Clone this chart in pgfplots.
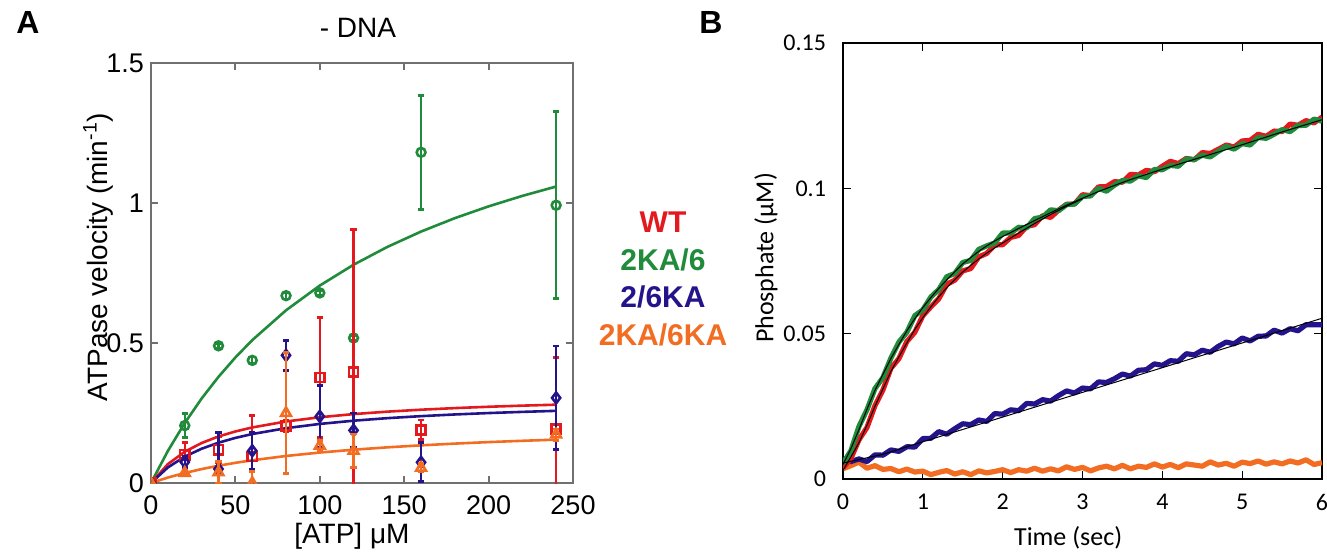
\documentclass[border=0pt]{standalone}
\usepackage{pgfplots}
\pgfplotsset{compat=1.18}
\usepackage{fontspec}
\setmainfont{Liberation Sans}
\newfontfamily\bfont{Carlito}
\definecolor{cR}{RGB}{227,25,30}
\definecolor{cG}{RGB}{31,139,59}
\definecolor{cB}{RGB}{35,20,140}
\definecolor{cO}{RGB}{242,108,34}
\definecolor{axgray}{RGB}{112,112,112}
\begin{document}
\begin{tikzpicture}
\useasboundingbox (0,0) rectangle (663.5pt,276pt);
% ---------------- Panel A ----------------
\begin{axis}[
  at={(75.5pt,34.5pt)}, anchor=south west, scale only axis,
  width=211pt, height=210pt,
  xmin=0, xmax=250, ymin=0, ymax=1.5,
  xtick={0,50,100,150,200,250}, ytick={0,0.5,1,1.5},
  yticklabels={0,0.5,1,1.5},
  tick align=inside, major tick length=3.5pt, tick pos=both,
  axis line style={draw=axgray, line width=1pt},
  tick style={draw=axgray, line width=1pt},
  /pgf/number format/assume math mode=true,
  ticklabel style={font=\fontsize{13.5}{16}\selectfont},
  xticklabel style={yshift=-3pt},
  xlabel={[ATP] μM}, ylabel={ATPase velocity (min\textsuperscript{-1})},
  label style={font=\fontsize{14}{17}\selectfont},
  xlabel style={at={(axis description cs:0.476,0)}, anchor=center, yshift=-26.5pt},
  ylabel style={at={(axis description cs:-0.1256,0.538)}, anchor=center},
  clip marker paths=true,
]
% fitted curves
\addplot[cG, line width=1.3pt, mark=none] coordinates {
(0,0)(10,0.1146)(20,0.2143)(30,0.3018)(40,0.3793)(50,0.4484)(60,0.5103)(80,0.6168)(100,0.7051)(120,0.7795)(140,0.8431)(160,0.8980)(180,0.9459)(200,0.9880)(220,1.0254)(240,1.0588)};
\addplot[cR, line width=1.3pt, mark=none] coordinates {
(0,0)(10,0.0675)(20,0.1117)(30,0.1429)(40,0.1662)(50,0.1841)(60,0.1984)(80,0.2197)(100,0.2348)(120,0.2461)(140,0.2548)(160,0.2618)(180,0.2675)(200,0.2723)(220,0.2763)(240,0.2797)};
\addplot[cB, line width=1.3pt, mark=none] coordinates {
(0,0)(10,0.0556)(20,0.0942)(30,0.1224)(40,0.1440)(50,0.1611)(60,0.1749)(80,0.1958)(100,0.2110)(120,0.2225)(140,0.2316)(160,0.2388)(180,0.2448)(200,0.2498)(220,0.2540)(240,0.2577)};
\addplot[cO, line width=1.3pt, mark=none] coordinates {
(0,0)(10,0.0195)(20,0.0358)(30,0.0497)(40,0.0617)(50,0.0721)(60,0.0812)(80,0.0965)(100,0.1088)(120,0.1189)(140,0.1274)(160,0.1345)(180,0.1407)(200,0.1461)(220,0.1507)(240,0.1549)};
% data with error bars
\addplot[cG, only marks, mark=o, mark size=2.2pt, mark options={line width=1.3pt, fill=white},
  error bars/.cd, y dir=both, y explicit, error bar style={line width=1.2pt},
  error mark options={rotate=90, mark size=1.6pt, line width=1.4pt}]
coordinates {
(0,0) +- (0,0)
(20,0.205) +- (0,0.043)
(40,0.49) +- (0,0.008)
(60,0.438) +- (0,0.012)
(80,0.669) +- (0,0.012)
(100,0.679) +- (0,0.008)
(120,0.518) +- (0,0.01)
(160,1.181) +- (0,0.203)
(240,0.992) +- (0,0.334)};
\addplot[cR, only marks, mark=square, mark size=2.3pt, mark options={line width=1.3pt, fill=white},
  error bars/.cd, y dir=both, y explicit, error bar style={line width=1.2pt},
  error mark options={rotate=90, mark size=1.6pt, line width=1.4pt}]
coordinates {
(0,0) +- (0,0)
(20,0.101) +- (0,0.045)
(40,0.119) +- (0,0.045)
(60,0.095) +- (0,0.147)
(80,0.205) +- (0,0.02)
(100,0.377) +- (0,0.215)
(120,0.396) +- (0,0.51)
(160,0.19) +- (0,0.035)
(240,0.193) +- (0,0.256)};
\addplot[cB, only marks, mark=diamond, mark size=2.7pt, mark options={line width=1.3pt, fill=white},
  error bars/.cd, y dir=both, y explicit, error bar style={line width=1.2pt},
  error mark options={rotate=90, mark size=1.6pt, line width=1.4pt}]
coordinates {
(0,0) +- (0,0)
(20,0.075) +- (0,0.02)
(40,0.05) +- (0,0.13)
(60,0.115) +- (0,0.065)
(80,0.456) +- (0,0.053)
(100,0.238) +- (0,0.11)
(120,0.188) +- (0,0.062)
(160,0.074) +- (0,0.07)
(240,0.304) +- (0,0.185)};
\addplot[cO, only marks, mark=triangle, mark size=2.8pt, mark options={line width=1.3pt, fill=white},
  error bars/.cd, y dir=both, y explicit, error bar style={line width=1.2pt},
  error mark options={rotate=90, mark size=1.6pt, line width=1.4pt}]
coordinates {
(0,0) +- (0,0)
(20,0.036) +- (0,0.01)
(40,0.038) +- (0,0.04)
(60,0.0) +- (0,0.04)
(80,0.25) +- (0,0.215)
(100,0.133) +- (0,0.02)
(120,0.115) +- (0,0.06)
(160,0.054) +- (0,0.015)
(240,0.173) +- (0,0.02)};
\end{axis}
% ---------------- Panel B ----------------
\begin{axis}[
  at={(421.5pt,36.5pt)}, anchor=south west, scale only axis,
  width=239.5pt, height=218pt,
  xmin=0, xmax=6, ymin=0, ymax=0.15,
  xtick={0,1,2,3,4,5,6}, ytick={0,0.05,0.1,0.15},
  yticklabels={0,0.05,0.1,0.15},
  tick align=inside, major tick length=4pt, tick pos=both,
  axis line style={line width=0.6pt}, tick style={line width=0.6pt, black},
  /pgf/number format/assume math mode=true,
  ticklabel style={font=\bfont\fontsize{12}{14}\selectfont},
  xticklabel style={yshift=-4pt}, yticklabel style={xshift=-5pt},
  xlabel={Time (sec)}, ylabel={Phosphate (μM)},
  label style={font=\bfont\fontsize{13}{16}\selectfont},
  xlabel style={at={(axis description cs:0.47,0)}, anchor=center, yshift=-29.5pt},
  ylabel style={at={(axis description cs:-0.161,0.507)}, anchor=center},
]
% orange trace
\addplot[cO, line width=2.6pt, line join=round, mark=none] coordinates {
(0.0,0.0035)(0.1,0.0046)(0.2,0.0058)(0.3,0.0037)(0.4,0.0046)(0.5,0.0033)(0.6,0.0036)(0.7,0.0025)(0.8,0.0034)(0.9,0.0024)
(1.0,0.0027)(1.1,0.0015)(1.2,0.0023)(1.3,0.0029)(1.4,0.0017)(1.5,0.0025)(1.6,0.0015)(1.7,0.0028)(1.8,0.0021)(1.9,0.0026)
(2.0,0.0032)(2.1,0.0022)(2.2,0.0032)(2.3,0.0027)(2.4,0.0037)(2.5,0.0027)(2.6,0.0035)(2.7,0.0028)(2.8,0.0042)(2.9,0.0033)
(3.0,0.0040)(3.1,0.0028)(3.2,0.0038)(3.3,0.0044)(3.4,0.0035)(3.5,0.0047)(3.6,0.0035)(3.7,0.0044)(3.8,0.0040)(3.9,0.0052)
(4.0,0.0041)(4.1,0.0050)(4.2,0.0039)(4.3,0.0052)(4.4,0.0048)(4.5,0.0044)(4.6,0.0059)(4.7,0.0048)(4.8,0.0054)(4.9,0.0044)
(5.0,0.0058)(5.1,0.0053)(5.2,0.0062)(5.3,0.0051)(5.4,0.0059)(5.5,0.0052)(5.6,0.0062)(5.7,0.0055)(5.8,0.0066)(5.9,0.0050)(6.0,0.0056)};
% blue trace
\addplot[cB, line width=2.6pt, line join=round, mark=none] coordinates {
(0.0,0.0069)(0.1,0.0060)(0.2,0.0069)(0.3,0.0060)(0.4,0.0083)(0.5,0.0082)(0.6,0.0100)(0.7,0.0095)(0.8,0.0111)(0.9,0.0110)
(1.0,0.0139)(1.1,0.0140)(1.2,0.0163)(1.3,0.0154)(1.4,0.0173)(1.5,0.0190)(1.6,0.0187)(1.7,0.0203)(1.8,0.0198)(1.9,0.0225)
(2.0,0.0223)(2.1,0.0238)(2.2,0.0235)(2.3,0.0260)(2.4,0.0258)(2.5,0.0273)(2.6,0.0268)(2.7,0.0287)(2.8,0.0303)(2.9,0.0296)
(3.0,0.0313)(3.1,0.0310)(3.2,0.0334)(3.3,0.0332)(3.4,0.0345)(3.5,0.0361)(3.6,0.0354)(3.7,0.0374)(3.8,0.0376)(3.9,0.0396)
(4.0,0.0391)(4.1,0.0407)(4.2,0.0405)(4.3,0.0431)(4.4,0.0427)(4.5,0.0443)(4.6,0.0436)(4.7,0.0456)(4.8,0.0471)(4.9,0.0465)
(5.0,0.0485)(5.1,0.0475)(5.2,0.0491)(5.3,0.0492)(5.4,0.0512)(5.5,0.0502)(5.6,0.0517)(5.7,0.0510)(5.8,0.0531)(5.9,0.0531)(6.0,0.0531)};
% red trace
\addplot[cR, line width=2.6pt, line join=round, mark=none] coordinates {
(0.0,0.0038)(0.1,0.0071)(0.2,0.0135)(0.3,0.0177)(0.4,0.0252)(0.5,0.0306)(0.6,0.0381)(0.7,0.0414)(0.8,0.0473)(0.9,0.0505)
(1.0,0.0562)(1.1,0.0592)(1.2,0.0620)(1.3,0.0670)(1.4,0.0684)(1.5,0.0716)(1.6,0.0724)(1.7,0.0764)(1.8,0.0776)(1.9,0.0805)
(2.0,0.0806)(2.1,0.0831)(2.2,0.0838)(2.3,0.0869)(2.4,0.0875)(2.5,0.0906)(2.6,0.0900)(2.7,0.0925)(2.8,0.0945)(2.9,0.0946)
(3.0,0.0978)(3.1,0.0975)(3.2,0.1005)(3.3,0.1006)(3.4,0.1023)(3.5,0.1021)(3.6,0.1048)(3.7,0.1046)(3.8,0.1062)(3.9,0.1057)
(4.0,0.1076)(4.1,0.1093)(4.2,0.1085)(4.3,0.1103)(4.4,0.1098)(4.5,0.1123)(4.6,0.1120)(4.7,0.1134)(4.8,0.1149)(4.9,0.1142)
(5.0,0.1163)(5.1,0.1165)(5.2,0.1186)(5.3,0.1179)(5.4,0.1197)(5.5,0.1195)(5.6,0.1221)(5.7,0.1217)(5.8,0.1233)(5.9,0.1225)(6.0,0.1245)};
% green trace
\addplot[cG, line width=2.6pt, line join=round, mark=none] coordinates {
(0.0,0.0054)(0.1,0.0098)(0.2,0.0181)(0.3,0.0238)(0.4,0.0311)(0.5,0.0349)(0.6,0.0416)(0.7,0.0471)(0.8,0.0505)(0.9,0.0562)
(1.0,0.0582)(1.1,0.0626)(1.2,0.0652)(1.3,0.0696)(1.4,0.0707)(1.5,0.0745)(1.6,0.0752)(1.7,0.0790)(1.8,0.0802)(1.9,0.0812)
(2.0,0.0846)(2.1,0.0846)(2.2,0.0866)(2.3,0.0864)(2.4,0.0896)(2.5,0.0901)(2.6,0.0926)(2.7,0.0923)(2.8,0.0944)(2.9,0.0946)
(3.0,0.0972)(3.1,0.0974)(3.2,0.1000)(3.3,0.0990)(3.4,0.1011)(3.5,0.1027)(3.6,0.1025)(3.7,0.1043)(3.8,0.1037)(3.9,0.1065)
(4.0,0.1064)(4.1,0.1079)(4.2,0.1076)(4.3,0.1101)(4.4,0.1099)(4.5,0.1114)(4.6,0.1108)(4.7,0.1127)(4.8,0.1144)(4.9,0.1135)
(5.0,0.1154)(5.1,0.1149)(5.2,0.1175)(5.3,0.1172)(5.4,0.1186)(5.5,0.1202)(5.6,0.1195)(5.7,0.1216)(5.8,0.1217)(5.9,0.1238)(6.0,0.1231)};
% fits
\addplot[black, line width=0.5pt, mark=none] coordinates {
(0,0.0055)(0.5,0.0085)(1,0.0128)(2,0.0213)(3,0.0298)(4,0.0383)(5,0.0468)(6,0.0553)};
\addplot[black, line width=0.5pt, mark=none] coordinates {
(0,0.0030)(0.1,0.0076)(0.2,0.0125)(0.3,0.0185)(0.4,0.0250)(0.5,0.0310)(0.6,0.0370)(0.7,0.0420)(0.8,0.0468)(0.9,0.0515)
(1.0,0.0555)(1.1,0.0592)(1.2,0.0627)(1.3,0.0658)(1.4,0.0686)(1.5,0.0712)(1.6,0.0735)(1.7,0.0757)(1.8,0.0777)(1.9,0.0795)
(2.0,0.0812)(2.2,0.0846)(2.4,0.0879)(2.6,0.0910)(2.8,0.0938)(3.0,0.0964)};
\addplot[black, line width=0.5pt, mark=none] coordinates {
(0,0.0050)(0.1,0.0105)(0.2,0.0170)(0.3,0.0240)(0.4,0.0305)(0.5,0.0360)(0.6,0.0415)(0.7,0.0463)(0.8,0.0510)(0.9,0.0552)
(1.0,0.0590)(1.1,0.0624)(1.2,0.0656)(1.3,0.0685)(1.4,0.0713)(1.5,0.0740)(1.6,0.0762)(1.7,0.0783)(1.8,0.0802)(1.9,0.0819)
(2.0,0.0834)(2.2,0.0862)(2.4,0.0889)(2.6,0.0916)(2.8,0.0942)(3.0,0.0966)(3.2,0.0989)(3.4,0.1010)(3.6,0.1030)(3.8,0.1048)
(4.0,0.1066)(4.5,0.1108)(5.0,0.1150)(5.5,0.1194)(6.0,0.1236)};
\end{axis}
% ---------------- annotations ----------------
\node[font=\bfseries\fontsize{16}{19}\selectfont] at (14pt,265pt) {A};
\node[font=\bfseries\fontsize{16}{19}\selectfont] at (355.5pt,265pt) {B};
\node[font=\fontsize{14}{17}\selectfont] at (179pt,262pt) {- DNA};
\node[font=\bfseries\fontsize{15}{18}\selectfont, text=cR] at (331.5pt,165pt) {WT};
\node[font=\bfseries\fontsize{15}{18}\selectfont, text=cG] at (331.5pt,146pt) {2KA/6};
\node[font=\bfseries\fontsize{15}{18}\selectfont, text=cB] at (331.5pt,127.5pt) {2/6KA};
\node[font=\bfseries\fontsize{15}{18}\selectfont, text=cO] at (331.5pt,108.5pt) {2KA/6KA};
\end{tikzpicture}
\end{document}
